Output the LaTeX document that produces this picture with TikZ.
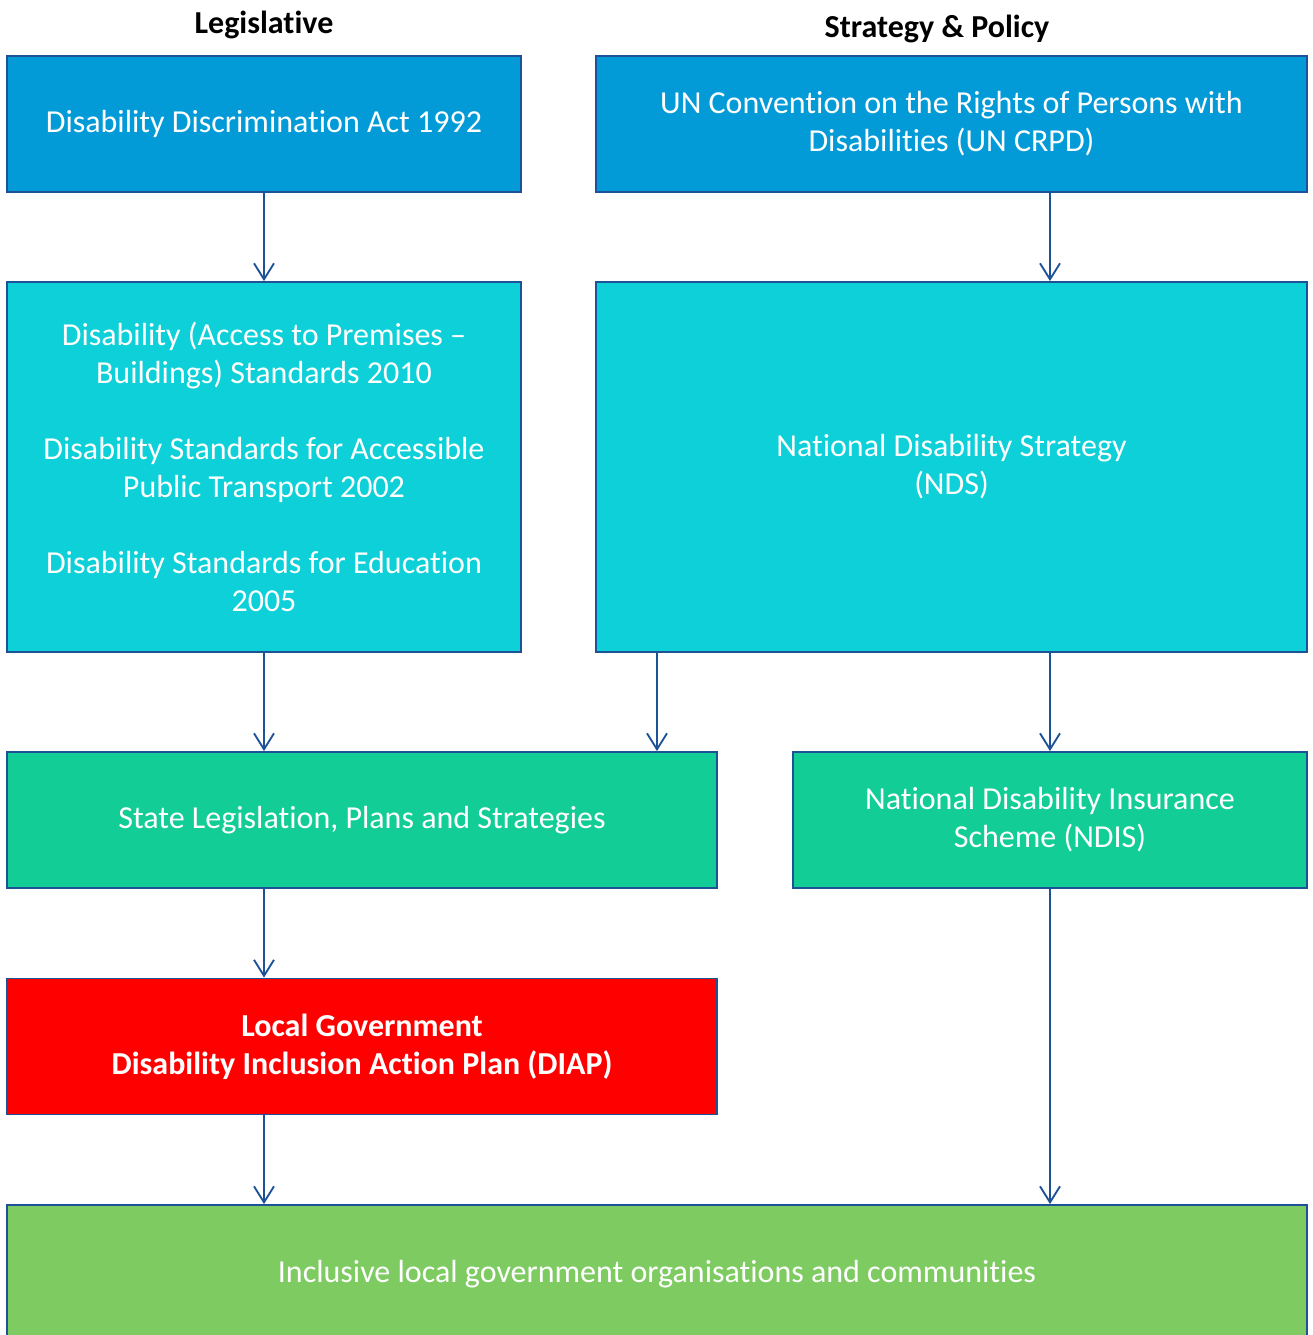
\documentclass[tikz,border=0pt]{standalone}
\usepackage{fontspec}
\setmainfont{Carlito}[Ligatures={NoCommon,NoRare,NoContextual}]
\usepackage{tikz}
\usetikzlibrary{arrows.meta}
\definecolor{actblue}{RGB}{3,155,215}
\definecolor{stdcyan}{RGB}{14,208,216}
\definecolor{statgreen}{RGB}{19,205,150}
\definecolor{diapred}{RGB}{255,0,0}
\definecolor{goalgreen}{RGB}{126,203,98}
\definecolor{edgeblue}{RGB}{30,82,150}

\begin{document}
\begin{tikzpicture}[x=0.75pt, y=-0.75pt,
    box/.style={rectangle, draw=edgeblue, line width=1.4pt, text=white, align=center,
        inner sep=0pt, font=\fontsize{24}{28.5}\selectfont},
    head/.style={font=\fontsize{24}{28}\selectfont\bfseries, text=black},
    flow/.style={draw=edgeblue, line width=1.4pt, -{Straight Barb[length=12pt, width=15pt, line width=1.4pt]}}]
    \path[use as bounding box, clip] (0,0) rectangle (1313,1335);
    % column titles
    \node[head] (tleg) at (264,25) {Legislative};
    \node[head] (tpol) at (937,29) {Strategy \& Policy};
    % boxes
    \node[box, fill=actblue, minimum width=385.5pt, minimum height=102pt] (dda) at (264,124) {Disability Discrimination Act 1992};
    \node[box, fill=actblue, minimum width=533.25pt, minimum height=102pt] (crpd) at (951.5,124) {UN Convention on the Rights of Persons with\\Disabilities (UN CRPD)};
    \node[box, fill=stdcyan, minimum width=385.5pt, minimum height=277.5pt] (stds) at (264,467) {Disability (Access to Premises --\\Buildings) Standards 2010\\[28.5pt]Disability Standards for Accessible\\Public Transport 2002\\[28.5pt]Disability Standards for Education\\2005};
    \node[box, fill=stdcyan, minimum width=533.25pt, minimum height=277.5pt] (nds) at (951.5,467) {National Disability Strategy\\(NDS)};
    \node[box, fill=statgreen, minimum width=532.5pt, minimum height=102pt] (state) at (362,820) {State Legislation, Plans and Strategies};
    \node[box, fill=statgreen, minimum width=385.5pt, minimum height=102pt] (ndis) at (1050,820) {National Disability Insurance\\Scheme (NDIS)};
    \node[box, fill=diapred, minimum width=532.5pt, minimum height=102pt, font=\fontsize{24}{28.5}\selectfont\bfseries] (diap) at (362,1046.5) {Local Government\\Disability Inclusion Action Plan (DIAP)};
    \node[box, fill=goalgreen, minimum width=975pt, minimum height=103.5pt] (goal) at (657,1274) {Inclusive local government organisations and communities};
    % arrows
    \draw[flow] (dda) -- (stds);
    \draw[flow] (crpd.south -| ndis.north) -- (nds.north -| ndis.north);
    \draw[flow] (stds) -- (state.north -| stds.south);
    \draw[flow] (nds.south -| goal.north) -- (state.north -| goal.north);
    \draw[flow] (nds.south -| ndis.north) -- (ndis);
    \draw[flow] (state.south -| stds.south) -- (diap.north -| stds.south);
    \draw[flow] (diap.south -| stds.south) -- (goal.north -| stds.south);
    \draw[flow] (ndis) -- (goal.north -| ndis.north);
\end{tikzpicture}
\end{document}
